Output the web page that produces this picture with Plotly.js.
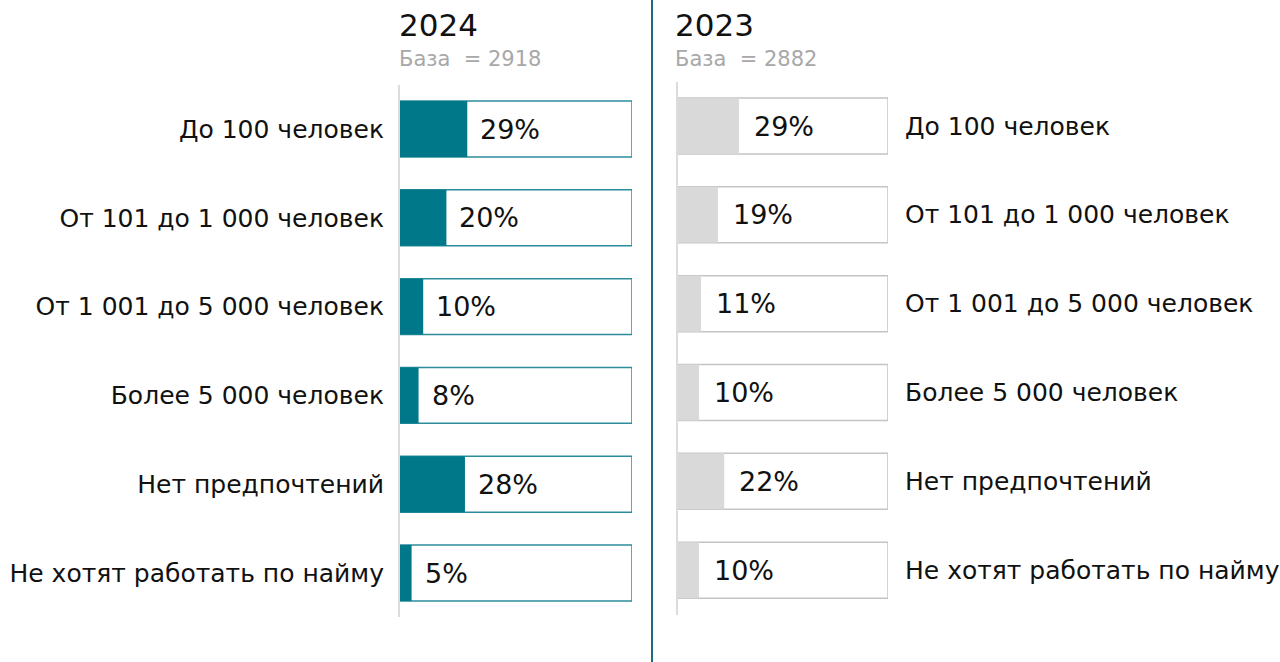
<!DOCTYPE html>
<html><head><meta charset="utf-8">
<script src="https://cdn.plot.ly/plotly-3.0.1.min.js"></script>
<style>html,body{margin:0;padding:0;background:#fff}#chart{width:1280px;height:662px}</style>
</head><body><div id="chart"></div>
<script>
var categories = ["До 100 человек","От 101 до 1 000 человек","От 1 001 до 5 000 человек","Более 5 000 человек","Нет предпочтений","Не хотят работать по найму"];
var values2024 = [29,20,10,8,28,5];
var values2023 = [29,19,11,10,22,10];
var full = [100,100,100,100,100,100];
var year2024 = "2024", base2024 = "База  = 2918";
var year2023 = "2023", base2023 = "База  = 2882";

var FONT = "DejaVu Sans, sans-serif";
var teal = "#00788a", tealBorder = "#2c8c9b";
var grey = "#d9d9d9", greyBorder = "#c4c4c4";
var bw = 0.63;

var traces = [
  {type:'bar', orientation:'h', x:full, y:categories, xaxis:'x', yaxis:'y', width:bw,
   marker:{color:'#fff', line:{color:tealBorder, width:1.5}}, hoverinfo:'skip'},
  {type:'bar', orientation:'h', x:values2024, y:categories, xaxis:'x', yaxis:'y', width:bw,
   marker:{color:teal, line:{color:teal, width:0}}, hoverinfo:'skip'},
  {type:'bar', orientation:'h', x:full, y:categories, xaxis:'x2', yaxis:'y2', width:bw,
   marker:{color:'#fff', line:{color:greyBorder, width:1.5}}, hoverinfo:'skip'},
  {type:'bar', orientation:'h', x:values2023, y:categories, xaxis:'x2', yaxis:'y2', width:bw,
   marker:{color:grey, line:{color:greyBorder, width:0}}, hoverinfo:'skip'}
];

var ann = [];
categories.forEach(function(c,i){
  ann.push({x:values2024[i], y:c, xref:'x', yref:'y', text:values2024[i]+'%', showarrow:false,
    xanchor:'left', yanchor:'middle', xshift:11, font:{family:FONT, size:27, color:'#111'}});
  ann.push({x:values2023[i], y:c, xref:'x2', yref:'y2', text:values2023[i]+'%', showarrow:false,
    xanchor:'left', yanchor:'middle', xshift:13, font:{family:FONT, size:27, color:'#111'}});
  ann.push({x:100, y:c, xref:'x2', yref:'y2', text:c, showarrow:false,
    xanchor:'left', yanchor:'middle', xshift:15, font:{family:FONT, size:25, color:'#111'}});
});
ann.push({x:400/1280, y:1-25/662, xref:'paper', yref:'paper', text:year2024, showarrow:false, xanchor:'left', yanchor:'middle', xshift:-3, font:{family:FONT,size:31,color:'#111'}});
ann.push({x:400/1280, y:1-59/662, xref:'paper', yref:'paper', text:base2024, showarrow:false, xanchor:'left', yanchor:'middle', xshift:-3, font:{family:FONT,size:21,color:'#a8a8a8'}});
ann.push({x:673/1280, y:1-25/662, xref:'paper', yref:'paper', text:year2023, showarrow:false, xanchor:'left', yanchor:'middle', font:{family:FONT,size:31,color:'#111'}});
ann.push({x:673/1280, y:1-59/662, xref:'paper', yref:'paper', text:base2023, showarrow:false, xanchor:'left', yanchor:'middle', font:{family:FONT,size:21,color:'#a8a8a8'}});

var layout = {
  width:1280, height:662, margin:{l:0,r:0,t:0,b:0},
  paper_bgcolor:'#fff', plot_bgcolor:'rgba(0,0,0,0)',
  barmode:'overlay', showlegend:false,
  xaxis:{domain:[400/1280, 632/1280], range:[0,100], visible:false, fixedrange:true},
  xaxis2:{domain:[678/1280, 888/1280], range:[0,100], visible:false, fixedrange:true},
  yaxis:{domain:[1-617.4/662, 1-84.6/662], type:'category', categoryorder:'array', categoryarray:categories,
    range:[5.5,-0.5], anchor:'x', showline:true, linecolor:'#dcdcdc', linewidth:2, showgrid:false, zeroline:false,
    ticks:'', ticklabelstandoff:9, tickfont:{family:FONT, size:25, color:'#111'}},
  yaxis2:{domain:[1-614.6/662, 1-81.6/662], type:'category', categoryorder:'array', categoryarray:categories,
    range:[5.5,-0.5], anchor:'x2', showline:true, linecolor:'#dcdcdc', linewidth:2, showgrid:false, zeroline:false,
    showticklabels:false, ticks:''},
  shapes:[{type:'line', xref:'paper', yref:'paper', x0:652/1280, x1:652/1280, y0:0, y1:1, line:{color:'#1d6b82', width:2}}],
  annotations:ann
};
Plotly.newPlot('chart', traces, layout, {displayModeBar:false, staticPlot:true});
</script></body></html>
